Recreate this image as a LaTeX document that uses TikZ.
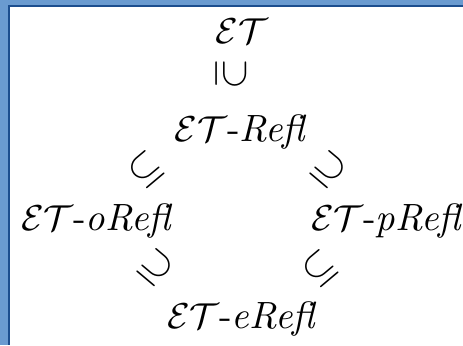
\documentclass[tikz,border=0pt]{standalone}
\usetikzlibrary{calc}
\definecolor{framelight}{HTML}{6A9BD0}
\definecolor{framedark}{HTML}{1C4E8E}
\begin{document}
\begin{tikzpicture}[x=0.25pt,y=-0.25pt,
  lbl/.style={inner sep=0pt,anchor=base,font=\fontsize{9.5}{11}\selectfont},
  rel/.style={inner sep=0pt,font=\fontsize{10}{12}\selectfont}]
\useasboundingbox (0,0) rectangle (463,345);
\fill[white] (0,0) rectangle (463,345);
\fill[framelight] (0,0) rectangle (8,345);
\fill[framelight] (0,0) rectangle (463,5);
\fill[framedark] (8,5) rectangle (10,345);
\fill[framedark] (8,5) rectangle (463,7);
\node[lbl] (et) at (242,43) {$\mathcal{ET}$};
\node[lbl] (refl) at (241,141) {$\mathcal{ET}$-\textit{Refl}};
\node[lbl] (orefl) at (97,230) {$\mathcal{ET}$-\textit{oRefl}};
\node[lbl] (prefl) at (387,230) {$\mathcal{ET}$-\textit{pRefl}};
\node[lbl] (erefl) at (242,328) {$\mathcal{ET}$-\textit{eRefl}};
\node[rel,rotate=-90] (r1) at (231,74) {$\supseteq$};
\node[rel,rotate=40] (r2) at (146,170) {$\subseteq$};
\node[rel,rotate=-40] (r3) at (329,170) {$\supseteq$};
\node[rel,rotate=-40] (r4) at (156,268) {$\supseteq$};
\node[rel,rotate=40] (r5) at (320,269) {$\subseteq$};
\end{tikzpicture}
\end{document}
